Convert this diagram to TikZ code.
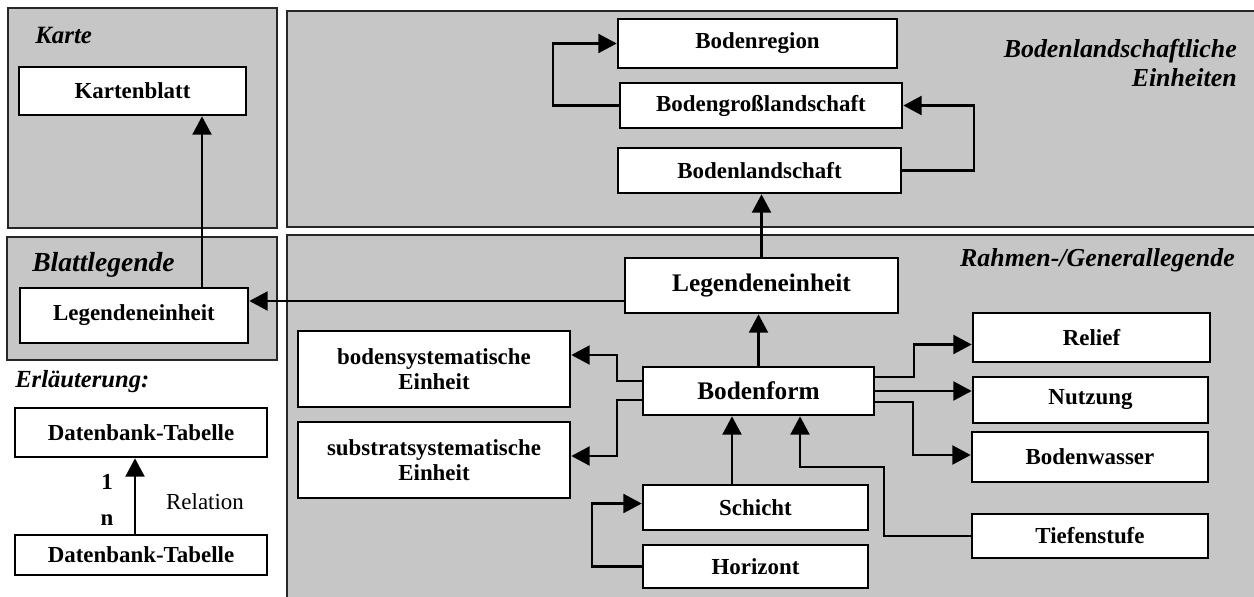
\documentclass[tikz,border=0pt]{standalone}
\usepackage{fontspec}
\setmainfont{Liberation Serif}
\usetikzlibrary{arrows.meta,positioning,calc}
\definecolor{panelgray}{RGB}{198,198,198}
\tikzset{
  panel/.style={fill=panelgray, draw=black!85, line width=1.3pt},
  tbl/.style n args={2}{draw, fill=white, line width=1.9pt, inner sep=0pt,
    minimum width=#1*0.025cm, minimum height=#2*0.025cm, align=center,
    font=\fontsize{16.3}{17.7}\selectfont\bfseries},
  bigtxt/.style={font=\fontsize{18}{21}\selectfont\bfseries},
  ttl/.style={inner sep=0pt, font=\fontsize{18.4}{21.3}\selectfont\bfseries\itshape},
  linkarr/.style={-{Triangle[length=13pt,width=13.5pt]}, line width=1.5pt},
}

\begin{document}
\begin{tikzpicture}[x=0.025cm, y=-0.025cm]
  \useasboundingbox (0,0) rectangle (1254,597);
  % panels
  \draw[panel] (8,8) rectangle (277,228);
  \draw[panel] (7,237) rectangle (277,360);
  \draw[panel] (287,11) rectangle (1262,227);
  \draw[panel] (287,235) rectangle (1262,604);
  % panel titles
  \node[ttl, anchor=west, font=\fontsize{17.7}{21}\selectfont\bfseries\itshape] (tkarte) at (35,35) {Karte};
  \node[ttl, anchor=west, font=\fontsize{19.6}{23}\selectfont\bfseries\itshape] (tblatt) at (32,265) {Blattlegende};
  \node[ttl, anchor=west, font=\fontsize{17.5}{21}\selectfont\bfseries\itshape] (terl) at (15,382) {Erläuterung:};
  \node[ttl, anchor=east, align=right] (tbodlan) at (1237,63) {Bodenlandschaftliche\\Einheiten};
  \node[ttl, anchor=east] (trahmen) at (1235,260) {Rahmen-/Generallegende};
  % tables, left column
  \node[tbl={227}{48}] (kartenblatt) at (132.5,91) {Kartenblatt};
  \node[tbl={228}{55}] (legL) at (134,315.5) {Legendeneinheit};
  \node[tbl={252}{49}] (dtTop) at (141,432.5) {Datenbank-Tabelle};
  \node[tbl={252}{40}] (dtBot) at (141,555) {Datenbank-Tabelle};
  % tables, soil landscape units
  \node[tbl={279}{49}] (bregion) at (757.5,43.5) {Bodenregion};
  \node[tbl={282}{45}] (bgl) at (761,105.5) {Bodengroßlandschaft};
  \node[tbl={283}{45}] (bl) at (759.5,170.5) {Bodenlandschaft};
  % tables, general legend
  \node[tbl={273}{55}, bigtxt] (legR) at (761.5,285.5) {Legendeneinheit};
  \node[tbl={231}{48}, bigtxt] (bform) at (758.5,391) {Bodenform};
  \node[tbl={272}{76}] (bsys) at (434,369) {bodensystematische\\Einheit};
  \node[tbl={272}{76}] (ssys) at (434,460) {substratsystematische\\Einheit};
  \node[tbl={225}{45}] (schicht) at (755.5,507.5) {Schicht};
  \node[tbl={225}{43}] (horizont) at (755.5,566.5) {Horizont};
  \node[tbl={237}{49}] (relief) at (1091.5,337.5) {Relief};
  \node[tbl={235}{46}] (nutzung) at (1090.5,400) {Nutzung};
  \node[tbl={236}{50}] (bwasser) at (1090,457) {Bodenwasser};
  \node[tbl={236}{44}] (tiefe) at (1090,536) {Tiefenstufe};
  % explanation labels
  \node[font=\fontsize{16.3}{19}\selectfont\bfseries] (one) at (107,482) {1};
  \node[font=\fontsize{16.3}{19}\selectfont\bfseries] (enn) at (107,520) {n};
  \node[font=\fontsize{16.3}{19}\selectfont] (relation) at (205,502) {Relation};
  % bend points
  \coordinate (kx) at (202,0);
  \coordinate (ly) at (0,301);
  \coordinate (sx) at (732,0);
  \coordinate (tf) at (800,467);
  \coordinate (rx) at (135,0);
  % relations
  \draw[linkarr] (legL.north -| kx) -- (kartenblatt.south -| kx);
  \draw[linkarr] (legR.west |- ly) -- (legL.east |- ly);
  \draw[linkarr] (legR.north) -- (legR.north |- bl.south);
  \draw[linkarr] (bl.east) -- ++(72,0) |- (bgl.east);
  \draw[linkarr] (bgl.west) -- ++(-66,0) |- (bregion.west);
  \draw[linkarr] (bform.north) -- (bform.north |- legR.south);
  \draw[linkarr] ($(bform.west)+(0,-10)$) -- ++(-25,0) |- ($(bsys.east)+(0,-14)$);
  \draw[linkarr] ($(bform.west)+(0,9)$) -- ++(-25,0) |- ($(ssys.east)+(0,-4)$);
  \draw[linkarr] ($(bform.east)+(0,-14)$) -- ++(39,0) |- ($(relief.west)+(0,7)$);
  \draw[linkarr] (bform.east) -- (bform.east -| nutzung.west);
  \draw[linkarr] ($(bform.east)+(0,11)$) -- ++(38,0) |- ($(bwasser.west)+(0,-2)$);
  \draw[linkarr] (tiefe.west) -- ++(-87,0) |- (tf) -- (tf |- bform.south);
  \draw[linkarr] (schicht.north -| sx) -- (bform.south -| sx);
  \draw[linkarr] (horizont.west) -- ++(-50,0) |- ($(schicht.west)+(0,-4)$);
  \draw[linkarr] (dtBot.north -| rx) -- (dtTop.south -| rx);
\end{tikzpicture}
\end{document}
